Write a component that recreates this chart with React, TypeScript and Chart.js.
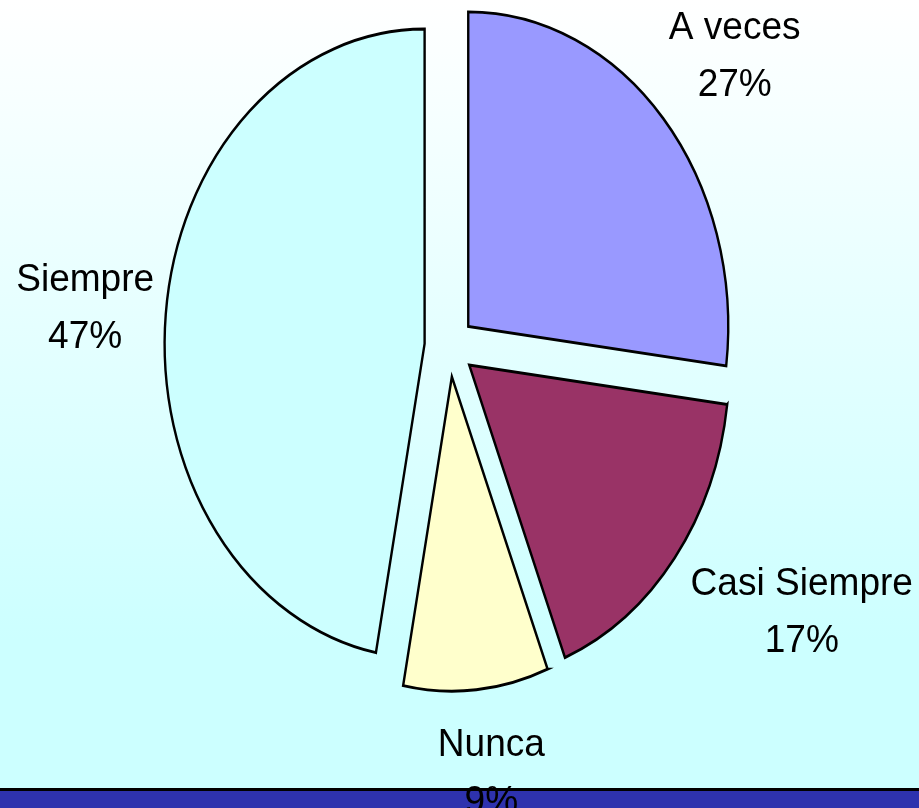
import React, { useEffect, useRef } from "react";
import { Chart, registerables } from "chart.js";

Chart.register(...registerables);

const categories = ["A veces", "Casi Siempre", "Nunca", "Siempre"];
const values = [27, 17, 9, 47];
const colors = ["#9999FF", "#993366", "#FFFFCC", "#CCFFFF"];

// label placement (text only): extra distance beyond the pie radius, and angle nudge in degrees
const labelExtra = [107, 160, 104, 105];
const labelAngleShift = [2.4, -4.8, -1.2, -1.9];

const Y_SCALE = 1.21;
const EXPLODE = 25;
const LINE_GAP = 57;

const ellipsePlugin = {
  id: "ellipse",
  beforeDatasetsDraw(chart: any) {
    const ctx = chart.ctx;
    const a = chart.chartArea;
    const cx = (a.left + a.right) / 2;
    const cy = (a.top + a.bottom) / 2;
    const meta = chart.getDatasetMeta(0);
    meta.data.forEach((arc: any) => {
      const mid = (arc.startAngle + arc.endAngle) / 2;
      arc.x = cx + Math.cos(mid) * EXPLODE;
      arc.y = cy + Math.sin(mid) * EXPLODE;
    });
    ctx.save();
    ctx.translate(cx, cy);
    ctx.scale(1, Y_SCALE);
    ctx.translate(-cx, -cy);
  },
  afterDatasetsDraw(chart: any) {
    const ctx = chart.ctx;
    ctx.restore();
    const a = chart.chartArea;
    const cx = (a.left + a.right) / 2;
    const cy = (a.top + a.bottom) / 2;
    const meta = chart.getDatasetMeta(0);
    const data = chart.data.datasets[0].data as number[];
    const total = data.reduce((s, v) => s + v, 0);
    ctx.save();
    ctx.fillStyle = "#000000";
    ctx.textAlign = "center";
    ctx.textBaseline = "alphabetic";
    ctx.font = '39px "Liberation Sans", Arial, sans-serif';
    meta.data.forEach((arc: any, i: number) => {
      const mid = (arc.startAngle + arc.endAngle) / 2 + (labelAngleShift[i] * Math.PI) / 180;
      const dist = arc.outerRadius + labelExtra[i];
      const lx = cx + Math.cos(mid) * dist;
      const ly = cy + Math.sin(mid) * dist * Y_SCALE;
      const lines = [
        String(chart.data.labels[i]),
        `${Math.round((data[i] / total) * 100)}%`,
      ];
      lines.forEach((t, k) => {
        ctx.save();
        ctx.translate(lx, ly - LINE_GAP / 2 + k * LINE_GAP);
        ctx.scale(0.95, 1);
        ctx.fillText(t, 0, 0);
        ctx.restore();
      });
    });
    ctx.restore();
  },
};

export default function App() {
  const ref = useRef<HTMLCanvasElement | null>(null);
  useEffect(() => {
    if (!ref.current) return;
    const chart = new Chart(ref.current, {
      type: "pie",
      data: {
        labels: categories,
        datasets: [
          {
            data: values,
            backgroundColor: colors,
            borderColor: "#000000",
            borderWidth: 2.4,
            borderJoinStyle: "miter",
            radius: 260,
          } as any,
        ],
      },
      options: {
        responsive: false,
        animation: false,
        events: [],
        layout: { padding: { left: 0, right: 20, top: 0, bottom: 115 } },
        plugins: {
          legend: { display: false },
          tooltip: { enabled: false },
        },
      },
      plugins: [ellipsePlugin],
    });
    return () => chart.destroy();
  }, []);

  return (
    <div
      style={{
        position: "absolute",
        left: 0,
        top: 0,
        width: 919,
        height: 808,
        overflow: "hidden",
        background: "linear-gradient(to bottom, #FFFFFF 0px, #CCFFFF 640px, #CCFFFF 808px)",
      }}
    >
      <div
        style={{
          position: "absolute",
          left: 0,
          top: 788,
          width: 919,
          height: 20,
          background: "#2E32AE",
          borderTop: "3px solid #000000",
          boxSizing: "border-box",
        }}
      />
      <canvas
        ref={ref}
        width={919}
        height={808}
        style={{ position: "absolute", left: 0, top: 0, width: 919, height: 808 }}
      />
    </div>
  );
}
